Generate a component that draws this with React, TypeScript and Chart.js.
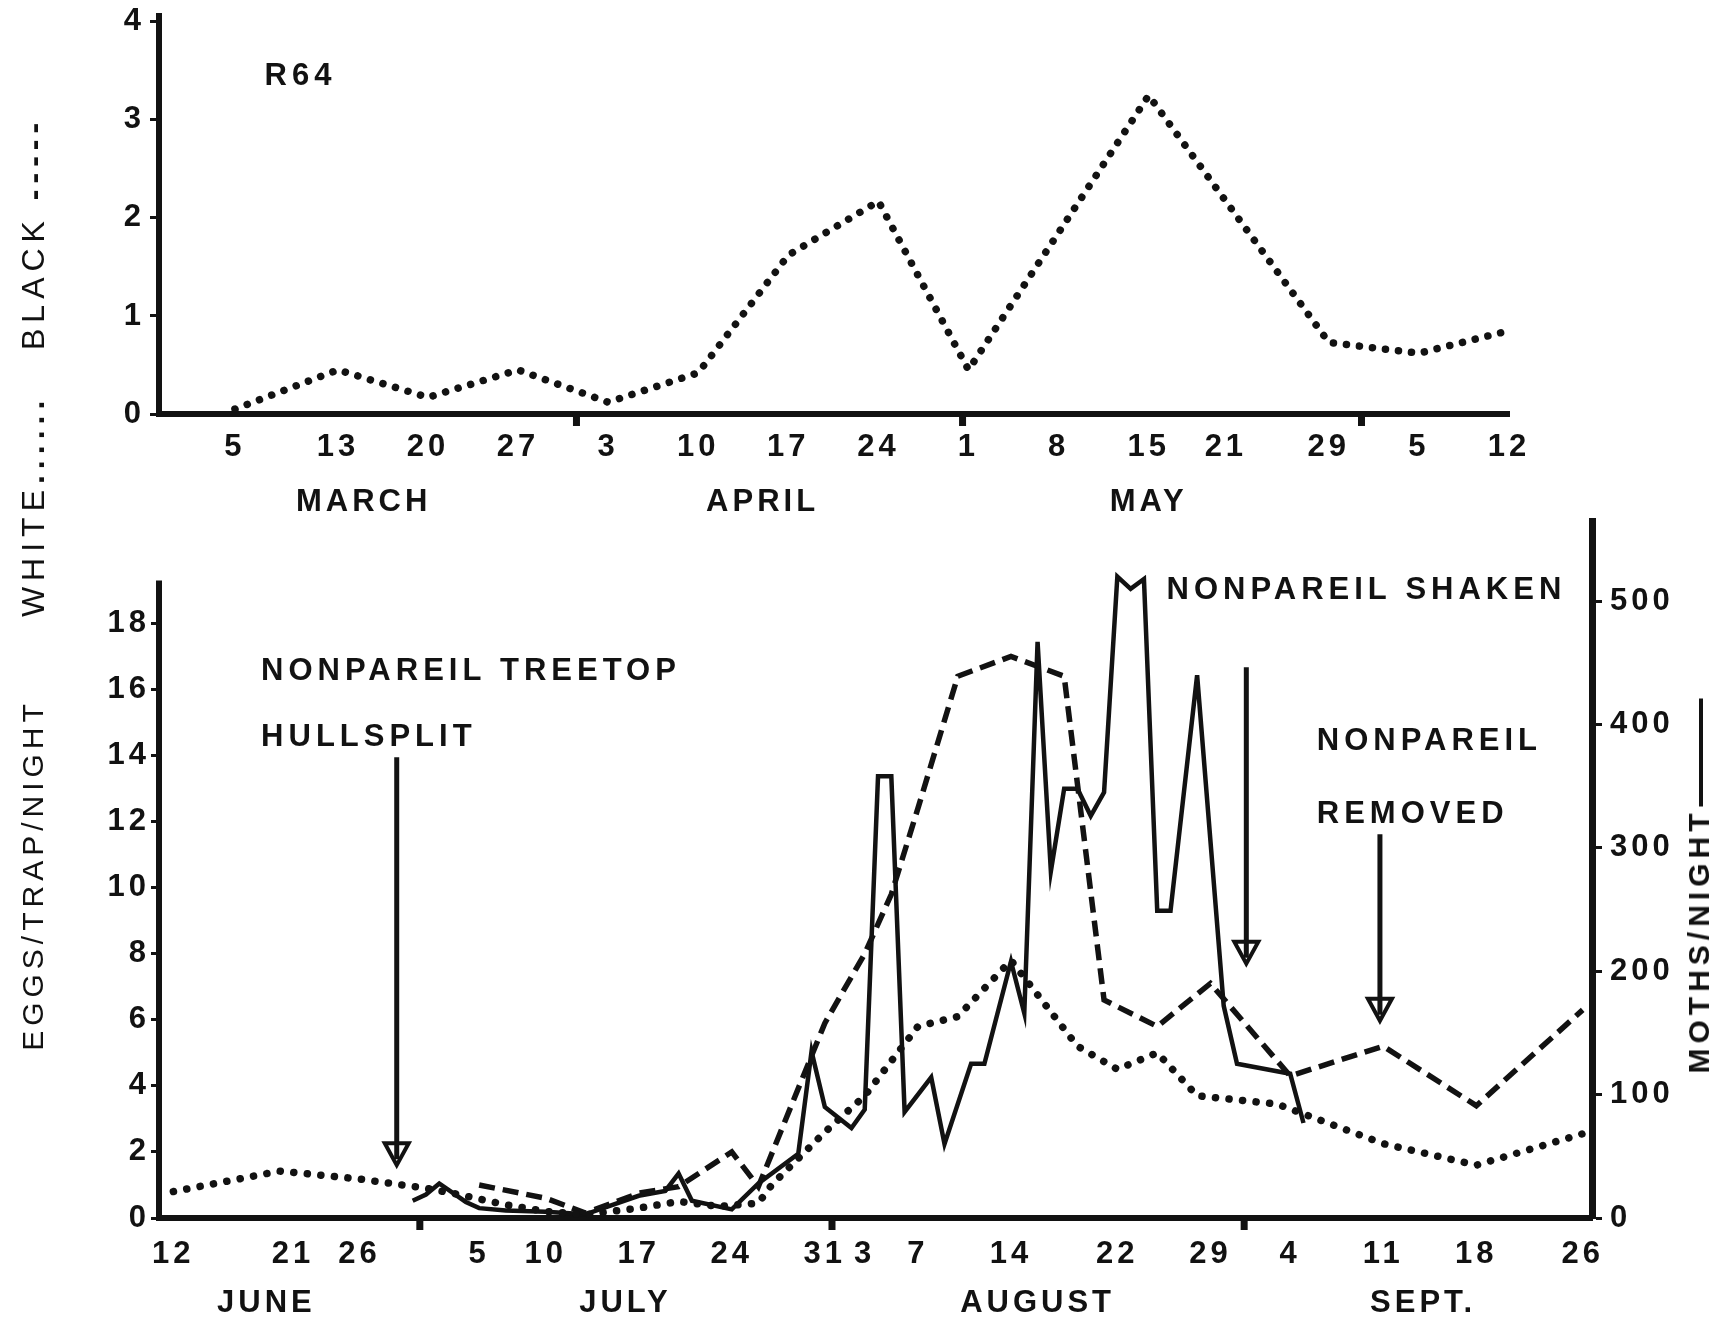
import React, { useEffect, useRef } from "react";
import { Chart, registerables } from "chart.js";

Chart.register(...registerables);

// ---------- helpers for dates (month-day -> day of year) ----------
const MONTH_START = [0, 31, 59, 90, 120, 151, 181, 212, 243, 273, 304, 334];
const doy = (s: string) => {
  const [m, d] = s.split("-");
  return MONTH_START[Number(m) - 1] + Number(d);
};

// ---------- TOP PANEL (R64, March - June) ----------
const topDates = ["3-05", "3-13", "3-20", "3-27", "4-03", "4-10", "4-17", "4-24", "5-01", "5-15", "5-29", "6-05", "6-12"];
const topWhite = [0.05, 0.45, 0.17, 0.45, 0.12, 0.42, 1.62, 2.17, 0.45, 3.25, 0.73, 0.62, 0.85];

const topTickDates = ["3-05", "3-13", "3-20", "3-27", "4-03", "4-10", "4-17", "4-24", "5-01", "5-08", "5-15", "5-21", "5-29", "6-05", "6-12"];
const topTickLabels = ["5", "13", "20", "27", "3", "10", "17", "24", "1", "8", "15", "21", "29", "5", "12"];
const topMonthDates = ["3-15", "4-15", "5-15"];
const topMonthLabels = ["MARCH", "APRIL", "MAY"];
const topMonthBounds = ["4-01", "5-01", "6-01"];
const topYTicks = [0, 1, 2, 3, 4];

// ---------- BOTTOM PANEL (June - September) ----------
const whiteDates = ["6-12", "6-20", "6-26", "7-01", "7-03", "7-07", "7-10", "7-13", "7-17", "7-20", "7-23", "7-26", "7-27", "7-31", "8-03", "8-07", "8-10", "8-14", "8-19", "8-22", "8-25", "8-28", "9-03", "9-11", "9-18", "9-26"];
const whiteEggs = [0.8, 1.42, 1.18, 0.9, 0.75, 0.4, 0.2, 0.1, 0.3, 0.5, 0.35, 0.45, 1.0, 2.6, 3.7, 5.8, 6.1, 7.8, 5.2, 4.5, 5.0, 3.7, 3.45, 2.25, 1.6, 2.55];

const blackDates = ["7-05", "7-10", "7-12", "7-13", "7-17", "7-20", "7-24", "7-26", "7-31", "8-03", "8-05", "8-07", "8-10", "8-14", "8-18", "8-21", "8-25", "8-29", "9-04", "9-11", "9-18", "9-26"];
const blackEggs = [1.0, 0.6, 0.3, 0.15, 0.75, 0.95, 2.0, 0.95, 5.9, 8.0, 9.8, 12.4, 16.4, 17.0, 16.4, 6.6, 5.8, 7.1, 4.3, 5.2, 3.4, 6.3];

const mothDates = ["6-30", "7-01", "7-02", "7-04", "7-05", "7-07", "7-10", "7-13", "7-17", "7-19", "7-20", "7-21", "7-24", "7-26", "7-29", "7-30", "7-31", "8-02", "8-03", "8-04", "8-05", "8-06", "8-08", "8-09", "8-11", "8-12", "8-14", "8-15", "8-16", "8-17", "8-18", "8-19", "8-20", "8-21", "8-22", "8-23", "8-24", "8-25", "8-26", "8-28", "8-30", "8-31", "9-04", "9-05"];
const mothsPerNight = [14, 19, 28, 13, 8, 6, 5, 3, 18, 22, 36, 14, 7, 28, 52, 135, 90, 73, 88, 358, 358, 86, 114, 60, 125, 125, 208, 166, 467, 281, 348, 348, 326, 345, 520, 510, 518, 249, 249, 440, 172, 125, 117, 77];

const bottomTickDates = ["6-12", "6-21", "6-26", "7-05", "7-10", "7-17", "7-24", "7-31", "8-03", "8-07", "8-14", "8-22", "8-29", "9-04", "9-11", "9-18", "9-26"];
const bottomTickLabels = ["12", "21", "26", "5", "10", "17", "24", "31", "3", "7", "14", "22", "29", "4", "11", "18", "26"];
const bottomMonthDates = ["6-19", "7-16", "8-16", "9-14"];
const bottomMonthLabels = ["JUNE", "JULY", "AUGUST", "SEPT."];
const bottomMonthBounds = ["7-01", "8-01", "9-01"];
const eggTicks = [0, 2, 4, 6, 8, 10, 12, 14, 16, 18];
const mothTicks = [0, 100, 200, 300, 400, 500];

// annotations (placed in data space)
const noteTexts = ["NONPAREIL TREETOP", "HULLSPLIT", "NONPAREIL SHAKEN", "NONPAREIL", "REMOVED"];
const noteDates = ["6-18.6", "6-18.6", "8-25.7", "9-06", "9-06"];
const noteEggLevels = [16.55, 14.55, 19.0, 14.44, 12.22];
const arrowDates = ["6-28.8", "8-31.7", "9-10.75"];
const arrowFrom = [13.95, 16.67, 11.62];
const arrowTo = [1.6, 7.7, 5.97];

const FONT = "'Liberation Sans', Arial, Helvetica, sans-serif";
const INK = "#121212";

const fixedTicks = (values: number[]) => (scale: any) => {
  scale.ticks = values.map((v) => ({ value: v }));
};

const spacingPlugin = {
  id: "spacing",
  beforeDraw(chart: any) {
    chart.ctx.letterSpacing = "4px";
  },
};

const boundsPlugin = (dates: string[]) => ({
  id: "monthBounds",
  afterDraw(chart: any) {
    const ctx = chart.ctx;
    const xs = chart.scales.x;
    ctx.save();
    ctx.fillStyle = INK;
    dates.forEach((d) => {
      const px = xs.getPixelForValue(doy(d) - 0.5);
      ctx.fillRect(px - 3, chart.chartArea.bottom, 7, 12);
    });
    ctx.restore();
  },
});

const tickFont = { family: FONT, size: 31, weight: "bold" as const };

export default function App() {
  const topRef = useRef<HTMLCanvasElement | null>(null);
  const botRef = useRef<HTMLCanvasElement | null>(null);

  useEffect(() => {
    const topX = {
      type: "linear",
      position: "bottom",
      weight: 0,
      min: doy("3-05") - 5.9,
      max: doy("6-12"),
      afterBuildTicks: fixedTicks(topTickDates.map(doy)),
      afterFit: (s: any) => {
        s.height = 60;
        s.paddingLeft = 0;
        s.paddingRight = 0;
      },
      grid: { display: false, drawTicks: false },
      border: { display: true, color: INK, width: 6 },
      ticks: {
        autoSkip: false,
        maxRotation: 0,
        padding: 15,
        color: INK,
        font: tickFont,
        callback: (_v: any, i: number) => topTickLabels[i],
      },
    };
    const topMonth = {
      type: "linear",
      position: "bottom",
      weight: 1,
      min: doy("3-05") - 5.9,
      max: doy("6-12"),
      afterBuildTicks: fixedTicks(topMonthDates.map(doy)),
      afterFit: (s: any) => {
        s.height = 56;
        s.paddingLeft = 0;
        s.paddingRight = 0;
      },
      grid: { display: false, drawTicks: false },
      border: { display: false },
      ticks: {
        autoSkip: false,
        maxRotation: 0,
        padding: 10,
        color: INK,
        font: tickFont,
        callback: (_v: any, i: number) => topMonthLabels[i],
      },
    };

    const r64Plugin = {
      id: "r64",
      afterDatasetsDraw(chart: any) {
        const ctx = chart.ctx;
        ctx.save();
        ctx.fillStyle = INK;
        ctx.font = `bold 31px ${FONT}`;
        ctx.letterSpacing = "5px";
        ctx.textAlign = "left";
        ctx.textBaseline = "middle";
        ctx.fillText("R64", chart.scales.x.getPixelForValue(doy("3-07.3")), chart.scales.y.getPixelForValue(3.44));
        ctx.restore();
      },
    };

    const c1 = new Chart(topRef.current as HTMLCanvasElement, {
      type: "line",
      data: {
        datasets: [
          {
            data: topDates.map((d, i) => ({ x: doy(d), y: topWhite[i] })),
            borderColor: INK,
            borderWidth: 7.5,
            borderDash: [0.1, 13],
            borderCapStyle: "round",
            pointRadius: 0,
            tension: 0,
            fill: false,
          },
        ],
      },
      options: {
        responsive: false,
        animation: false,
        layout: { padding: { left: 0, right: 212, top: 16, bottom: 0 } },
        plugins: { legend: { display: false }, tooltip: { enabled: false } },
        scales: {
          x: topX,
          xMonth: topMonth,
          y: {
            type: "linear",
            position: "left",
            min: 0,
            max: 4.06,
            afterBuildTicks: fixedTicks(topYTicks),
            afterFit: (s: any) => {
              s.width = 159;
              s.paddingTop = 0;
              s.paddingBottom = 0;
            },
            grid: { display: true, drawOnChartArea: false, drawTicks: true, tickLength: 9, tickWidth: 3, tickColor: INK },
            border: { display: true, color: INK, width: 6 },
            ticks: { padding: 5, color: INK, font: tickFont },
          },
        } as any,
      },
      plugins: [spacingPlugin, boundsPlugin(topMonthBounds), r64Plugin],
    } as any);

    const notesPlugin = {
      id: "notes",
      afterDatasetsDraw(chart: any) {
        const ctx = chart.ctx;
        const xs = chart.scales.x;
        const ys = chart.scales.y;
        const area = chart.chartArea;
        ctx.save();
        // left axis line (only up to ~19.3)
        ctx.strokeStyle = INK;
        ctx.lineWidth = 6;
        ctx.beginPath();
        ctx.moveTo(area.left, ys.getPixelForValue(0) + 3);
        ctx.lineTo(area.left, ys.getPixelForValue(19.3));
        ctx.stroke();
        // texts
        ctx.fillStyle = INK;
        ctx.font = `bold 31px ${FONT}`;
        ctx.letterSpacing = "5px";
        ctx.textAlign = "left";
        ctx.textBaseline = "middle";
        noteTexts.forEach((t, i) => {
          ctx.fillText(t, xs.getPixelForValue(doy(noteDates[i])), ys.getPixelForValue(noteEggLevels[i]));
        });
        // arrows
        arrowDates.forEach((d, i) => {
          const px = xs.getPixelForValue(doy(d));
          const y0 = ys.getPixelForValue(arrowFrom[i]);
          const y1 = ys.getPixelForValue(arrowTo[i]);
          ctx.lineWidth = 5;
          ctx.beginPath();
          ctx.moveTo(px, y0);
          ctx.lineTo(px, y1 - 6);
          ctx.stroke();
          ctx.lineWidth = 4;
          ctx.beginPath();
          ctx.moveTo(px - 12, y1 - 22);
          ctx.lineTo(px + 12, y1 - 22);
          ctx.lineTo(px, y1);
          ctx.closePath();
          ctx.stroke();
        });
        ctx.restore();
      },
    };

    const botMin = doy("6-12") - 1.08;
    const botMax = doy("9-26") + 0.7;

    const c2 = new Chart(botRef.current as HTMLCanvasElement, {
      type: "line",
      data: {
        datasets: [
          {
            label: "White",
            data: whiteDates.map((d, i) => ({ x: doy(d), y: whiteEggs[i] })),
            yAxisID: "y",
            borderColor: INK,
            borderWidth: 7.5,
            borderDash: [0.1, 13.5],
            borderCapStyle: "round",
            pointRadius: 0,
            tension: 0,
            fill: false,
          },
          {
            label: "Black",
            data: blackDates.map((d, i) => ({ x: doy(d), y: blackEggs[i] })),
            yAxisID: "y",
            borderColor: INK,
            borderWidth: 5.5,
            borderDash: [16, 8],
            pointRadius: 0,
            tension: 0,
            fill: false,
          },
          {
            label: "Moths/night",
            data: mothDates.map((d, i) => ({ x: doy(d), y: mothsPerNight[i] })),
            yAxisID: "y1",
            borderColor: INK,
            borderWidth: 4.5,
            borderJoinStyle: "miter",
            pointRadius: 0,
            tension: 0,
            fill: false,
          },
        ],
      },
      options: {
        responsive: false,
        animation: false,
        layout: { padding: { left: 0, right: 0, top: 21, bottom: 0 } },
        plugins: { legend: { display: false }, tooltip: { enabled: false } },
        scales: {
          x: {
            type: "linear",
            position: "bottom",
            weight: 0,
            min: botMin,
            max: botMax,
            afterBuildTicks: fixedTicks(bottomTickDates.map(doy)),
            afterFit: (s: any) => {
              s.height = 60;
              s.paddingLeft = 0;
              s.paddingRight = 0;
            },
            grid: { display: false, drawTicks: false },
            border: { display: true, color: INK, width: 6 },
            ticks: {
              autoSkip: false,
              maxRotation: 0,
              padding: 18,
              color: INK,
              font: tickFont,
              callback: (_v: any, i: number) => bottomTickLabels[i],
            },
          },
          xMonth: {
            type: "linear",
            position: "bottom",
            weight: 1,
            min: botMin,
            max: botMax,
            afterBuildTicks: fixedTicks(bottomMonthDates.map(doy)),
            afterFit: (s: any) => {
              s.height = 45;
              s.paddingLeft = 0;
              s.paddingRight = 0;
            },
            grid: { display: false, drawTicks: false },
            border: { display: false },
            ticks: {
              autoSkip: false,
              maxRotation: 0,
              padding: 7,
              color: INK,
              font: tickFont,
              callback: (_v: any, i: number) => bottomMonthLabels[i],
            },
          },
          y: {
            type: "linear",
            position: "left",
            min: 0,
            max: 21.1,
            afterBuildTicks: fixedTicks(eggTicks),
            afterFit: (s: any) => {
              s.width = 159;
              s.paddingTop = 0;
              s.paddingBottom = 0;
            },
            grid: { display: true, drawOnChartArea: false, drawTicks: true, tickLength: 8, tickWidth: 3, tickColor: INK },
            border: { display: false },
            ticks: { padding: 1, color: INK, font: tickFont },
          },
          y1: {
            type: "linear",
            position: "right",
            min: 0,
            max: 565,
            afterBuildTicks: fixedTicks(mothTicks),
            afterFit: (s: any) => {
              s.width = 129;
              s.paddingTop = 0;
              s.paddingBottom = 0;
            },
            grid: { display: true, drawOnChartArea: false, drawTicks: true, tickLength: 10, tickWidth: 3, tickColor: INK },
            border: { display: true, color: INK, width: 7 },
            ticks: { padding: 8, color: INK, font: tickFont },
          },
        } as any,
      },
      plugins: [spacingPlugin, boundsPlugin(bottomMonthBounds), notesPlugin],
    } as any);

    return () => {
      c1.destroy();
      c2.destroy();
    };
  }, []);

  const sideLabel = (extra: any) => ({
    position: "absolute" as const,
    transform: "translate(-50%, -50%) rotate(-90deg)",
    whiteSpace: "nowrap" as const,
    fontFamily: FONT,
    fontSize: 30,
    letterSpacing: "5px",
    color: INK,
    lineHeight: 1,
    ...extra,
  });

  return (
    <div style={{ position: "absolute", left: 0, top: 0, width: 1721, height: 1323, overflow: "hidden", background: "#fff" }}>
      <canvas ref={topRef} width={1721} height={530} style={{ position: "absolute", left: 0, top: 0 }} />
      <canvas ref={botRef} width={1721} height={823} style={{ position: "absolute", left: 0, top: 500 }} />
      <div style={sideLabel({ left: 33, top: 367, fontSize: 32, letterSpacing: "6px" })}>
        WHITE<b>......</b>&nbsp;&nbsp;&nbsp;BLACK&nbsp;<b>-----</b>
      </div>
      <div style={sideLabel({ left: 33, top: 875 })}>EGGS/TRAP/NIGHT</div>
      <div style={sideLabel({ left: 1699, top: 886, fontWeight: "bold" })}>
        MOTHS/NIGHT
        <span style={{ display: "inline-block", width: 108, height: 4, background: INK, verticalAlign: "middle", marginLeft: 2 }} />
      </div>
    </div>
  );
}
